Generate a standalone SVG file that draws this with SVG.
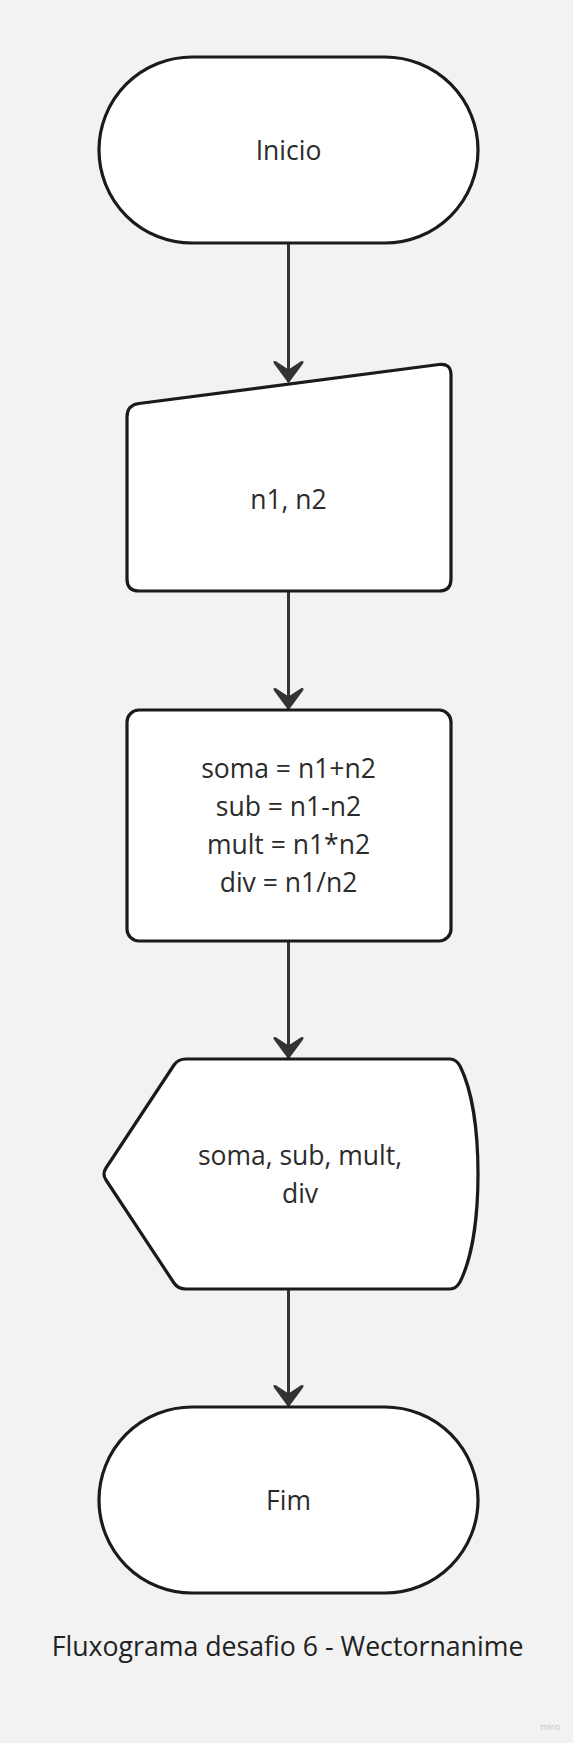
<svg xmlns="http://www.w3.org/2000/svg" width="573" height="1743" viewBox="0 0 573 1743">
<style>
.shape{fill:#ffffff;stroke:#1a1a1a;stroke-width:3.2;stroke-linejoin:round}
.t{font-family:"Open Sans","Noto Sans","DejaVu Sans",sans-serif;font-size:26.5px;fill:#2b2b2b;text-anchor:middle}
.conn{stroke:#333333;stroke-width:3;fill:none}
</style>
<defs>
<marker id="arr" markerUnits="userSpaceOnUse" markerWidth="32" markerHeight="32" refX="28" refY="16" orient="auto" viewBox="0 0 32 32">
<path d="M28,16 L9,2 Q7,1 8,3 L16.5,16 L8,29 Q7,31 9,30 Z" fill="#333333" stroke="#333333" stroke-width="1.5" stroke-linejoin="round"/>
</marker>
</defs>
<rect width="573" height="1743" fill="#f2f2f2"/>
<g id="connectors">
<line class="conn" x1="288.5" y1="244" x2="288.5" y2="382" marker-end="url(#arr)"/>
<line class="conn" x1="288.5" y1="592" x2="288.5" y2="709" marker-end="url(#arr)"/>
<line class="conn" x1="288.5" y1="942" x2="288.5" y2="1058" marker-end="url(#arr)"/>
<line class="conn" x1="288.5" y1="1290" x2="288.5" y2="1406" marker-end="url(#arr)"/>
</g>
<g id="inicio">
<rect class="shape" x="99" y="57" width="379" height="186" rx="93" ry="93"/>
<text class="t" x="288.5" y="160">Inicio</text>
</g>
<g id="entrada">
<path class="shape" d="M139,403.5 L439,364.5 Q451,363 451,375 L451,579 Q451,591 439,591 L139,591 Q127,591 127,579 L127,417 Q127,405 139,403.5 Z"/>
<text class="t" x="288.5" y="509">n1, n2</text>
</g>
<g id="processo">
<rect class="shape" x="127" y="710" width="324" height="231" rx="12" ry="12"/>
<text class="t" x="288.5" y="778">soma = n1+n2</text>
<text class="t" x="288.5" y="816">sub = n1-n2</text>
<text class="t" x="288.5" y="854">mult = n1*n2</text>
<text class="t" x="288.5" y="892">div = n1/n2</text>
</g>
<g id="saida">
<path class="shape" d="M186,1059 L450,1059 Q456,1059 460,1066 C472,1090 478,1130 478,1174 C478,1218 472,1258 460,1282 Q456,1289 450,1289 L186,1289 Q178,1289 174,1283 L106,1180 Q102,1174 106,1168 L174,1065 Q178,1059 186,1059 Z"/>
<text class="t" x="300" y="1165">soma, sub, mult,</text>
<text class="t" x="300" y="1203">div</text>
</g>
<g id="fim">
<rect class="shape" x="99" y="1407" width="379" height="186" rx="93" ry="93"/>
<text class="t" x="288.5" y="1510">Fim</text>
</g>
<g id="titulo">
<text x="287.5" y="1656" style="font-family:'Open Sans','Noto Sans',sans-serif;font-size:26.7px;fill:#222222;text-anchor:middle">Fluxograma desafio 6 - Wectornanime</text>
</g>
<text x="550" y="1730" style="font-family:'Open Sans','Noto Sans',sans-serif;font-size:9px;fill:#c4c4c4;text-anchor:middle">miro</text>
</svg>
